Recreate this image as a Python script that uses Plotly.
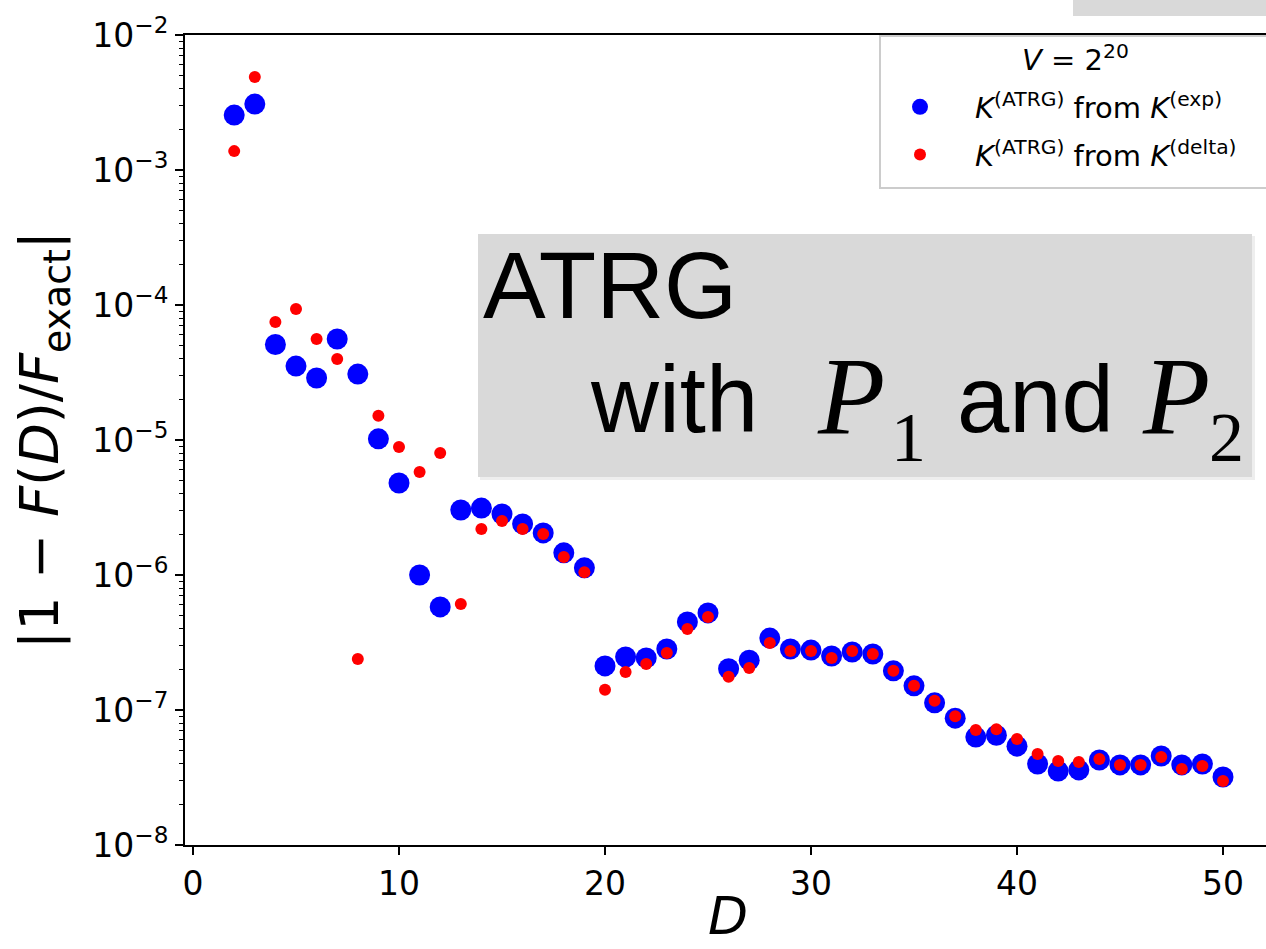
import plotly.graph_objects as go

# ---- data ----
D = list(range(2, 51))
err_exp = [2.55e-3, 3.08e-3, 5.1e-5, 3.53e-5, 2.88e-5, 5.6e-5, 3.08e-5, 1.02e-5, 4.8e-6,
           1.0e-6, 5.8e-7, 3.03e-6, 3.13e-6, 2.83e-6, 2.39e-6, 2.05e-6, 1.46e-6, 1.13e-6,
           2.12e-7, 2.47e-7, 2.43e-7, 2.83e-7, 4.49e-7, 5.24e-7, 2.02e-7, 2.34e-7, 3.41e-7,
           2.83e-7, 2.78e-7, 2.51e-7, 2.69e-7, 2.60e-7, 1.95e-7, 1.51e-7, 1.13e-7, 8.7e-8,
           6.3e-8, 6.5e-8, 5.4e-8, 3.98e-8, 3.53e-8, 3.6e-8, 4.26e-8, 3.92e-8, 3.92e-8,
           4.56e-8, 3.92e-8, 3.98e-8, 3.19e-8]
err_delta = [1.38e-3, 4.89e-3, 7.48e-5, 9.33e-5, 5.6e-5, 3.98e-5, 2.39e-7, 1.51e-5, 8.87e-6,
             5.8e-6, 8.0e-6, 6.1e-7, 2.19e-6, 2.51e-6, 2.19e-6, 2.01e-6, 1.36e-6, 1.05e-6,
             1.41e-7, 1.91e-7, 2.19e-7, 2.64e-7, 3.98e-7, 4.89e-7, 1.76e-7, 2.05e-7, 3.13e-7,
             2.74e-7, 2.74e-7, 2.43e-7, 2.74e-7, 2.60e-7, 1.95e-7, 1.51e-7, 1.17e-7, 9.0e-8,
             7.1e-8, 7.2e-8, 6.1e-8, 4.72e-8, 4.19e-8, 4.12e-8, 4.34e-8, 3.92e-8, 3.92e-8,
             4.49e-8, 3.66e-8, 3.85e-8, 2.98e-8]
x_ticks = [0, 10, 20, 30, 40, 50]
y_exps = [-8, -7, -6, -5, -4, -3, -2]
y_ticks = [10.0 ** e for e in y_exps]
y_ticktext = ["10<sup>\u2212%d</sup>" % (-e) for e in y_exps]
minor_y = [m * 10.0 ** e for e in y_exps[:-1] for m in range(2, 10)]

W, H = 1266, 949
L, R, T, B = 185, 0, 35, 104
PW, PH = W - L - R, H - T - B


def px(x):
    return (x - L) / PW


def py(y):
    return (H - B - y) / PH


fig = go.Figure()
fig.add_trace(go.Scatter(x=D, y=err_exp, mode="markers", legendgroup="a",
                         marker=dict(color="#0000ff", size=21, line=dict(width=0)),
                         name="<i>K</i><sup>(ATRG)</sup> from <i>K</i><sup>(exp)</sup>"))
fig.add_trace(go.Scatter(x=D, y=err_delta, mode="markers", legendgroup="b",
                         marker=dict(color="#ff0000", size=12, line=dict(width=0)),
                         name="<i>K</i><sup>(ATRG)</sup> from <i>K</i><sup>(delta)</sup>"))

tickfont = dict(family="DejaVu Sans", size=33, color="black")
fig.update_xaxes(range=[(L - 193) / 20.6, (W - 193) / 20.6], tickvals=x_ticks, automargin=False,
                 ticks="outside", ticklen=8, tickwidth=1.5, tickcolor="black",
                 showline=True, linecolor="black", linewidth=2, mirror=True,
                 showgrid=False, zeroline=False, tickfont=tickfont)
fig.update_yaxes(type="log", range=[-8, -2], tickvals=y_ticks, ticktext=y_ticktext, automargin=False,
                 ticks="outside", ticklen=8, tickwidth=1.5, tickcolor="black",
                 minor=dict(tickvals=minor_y, ticks="outside", ticklen=4, tickwidth=1, tickcolor="black"),
                 showline=True, linecolor="black", linewidth=2,
                 showgrid=False, zeroline=False, tickfont=tickfont,
                 title=dict(text="|1 \u2212 <i>F</i>(<i>D</i>)/<i>F</i><sub>exact</sub>|",
                            font=dict(family="DejaVu Sans", size=54, color="black"), standoff=16))

# x-axis title
fig.add_annotation(text="<i>D</i>", xref="paper", yref="paper", x=px(728), y=py(948),
                   xanchor="center", yanchor="bottom", showarrow=False,
                   font=dict(family="DejaVu Sans", size=52, color="black"))

# gray boxes
fig.add_shape(type="rect", xref="paper", yref="paper", x0=px(1073), x1=1.0, y0=py(16), y1=py(-5),
              fillcolor="#d9d9d9", line=dict(width=0), layer="above")
fig.add_shape(type="rect", xref="paper", yref="paper", x0=px(480), x1=px(1255), y0=py(480), y1=py(236),
              fillcolor="#eeeeee", line=dict(width=0), layer="below")
fig.add_shape(type="rect", xref="paper", yref="paper", x0=px(478), x1=px(1252), y0=py(477), y1=py(234),
              fillcolor="#d9d9d9", line=dict(width=0), layer="below")
# legend frame (extends past the right edge like the reference)
fig.add_shape(type="rect", xref="paper", yref="paper", x0=px(880), x1=px(1275), y0=py(188), y1=py(36),
              fillcolor="white", line=dict(color="#cccccc", width=2), layer="above")

sans = "Liberation Sans"
serif = "Liberation Serif"
texts = [
    ("ATRG", sans, 94, 481, 285),
    ("with", sans, 94, 588, 399),
    ("<i>P</i>", serif, 110, 815, 396),
    ("1", serif, 70, 889, 437),
    ("and", sans, 94, 955, 399),
    ("<i>P</i>", serif, 110, 1140, 396),
    ("2", serif, 70, 1207, 437),
]
for t, fam, sz, x, y in texts:
    fig.add_annotation(text=t, xref="paper", yref="paper", x=px(x), y=py(y), xanchor="left",
                       yanchor="middle", showarrow=False, font=dict(family=fam, size=sz, color="black"))

# legend title drawn as text on top of the legend box
fig.add_annotation(text="<i>V</i> = 2<sup>20</sup>", xref="paper", yref="paper",
                   x=px(1075), y=py(58), xanchor="center", yanchor="middle", showarrow=False,
                   font=dict(family="DejaVu Sans", size=29, color="black"))

fig.update_layout(
    width=W, height=H, margin=dict(l=L, r=R, t=T, b=B, pad=0),
    plot_bgcolor="white", paper_bgcolor="white",
    legend=dict(x=px(880), y=py(36), xanchor="left", yanchor="top",
                bgcolor="rgba(0,0,0,0)", borderwidth=0,
                font=dict(family="DejaVu Sans", size=29, color="black"),
                title=dict(text="&nbsp;", side="top",
                           font=dict(family="DejaVu Sans", size=35, color="black")),
                itemwidth=100, indentation=-15, tracegroupgap=7),
)

fig.write_html("out.html", config={"displayModeBar": False},
               post_script="document.body.style.margin='0';document.body.style.overflow='hidden';")
